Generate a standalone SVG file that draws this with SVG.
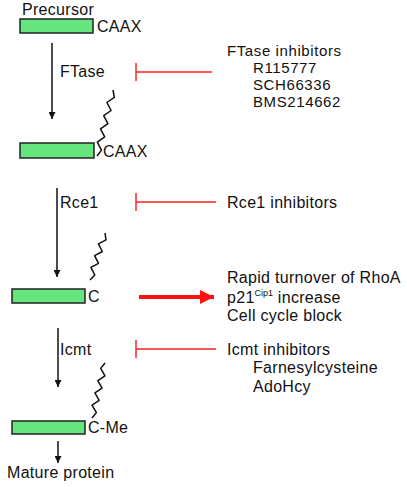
<svg xmlns="http://www.w3.org/2000/svg" width="407" height="487" viewBox="0 0 407 487">
<style>
text{font-family:"Liberation Sans",Arial,sans-serif;font-size:16px;letter-spacing:0.3px;fill:#111}
.sm{font-size:15px;letter-spacing:0.6px}
.box{fill:#66e57f;stroke:#222;stroke-width:1.5}
.zz{fill:none;stroke:#111;stroke-width:1.5;stroke-linejoin:round}
.arr{stroke:#111;stroke-width:1.5;fill:none}
.inh{stroke:#ff2222;stroke-width:1.5;fill:none}
.sup{font-size:9px;letter-spacing:0}
</style>
<defs>
<marker id="ah" viewBox="0 0 10 10" refX="10" refY="5" markerWidth="7" markerHeight="7" markerUnits="userSpaceOnUse" orient="auto">
<path d="M0,0 L10,5 L0,10 z" fill="#111"/>
</marker>
<marker id="rah" viewBox="0 0 10 10" refX="10" refY="5" markerWidth="14" markerHeight="14" markerUnits="userSpaceOnUse" orient="auto">
<path d="M0,0 L10,5 L0,10 z" fill="#ff1111"/>
</marker>
</defs>
<g id="precursor">
<text x="22" y="15">Precursor</text>
<rect class="box" x="20" y="19" width="73" height="14"/>
<text x="97" y="32">CAAX</text>
</g>
<g id="farnesylated">
<rect class="box" x="20" y="143" width="74" height="15"/>
<polyline class="zz" points="97,156 101.5,150.1 97.3,142.1 104.7,136.9 100.5,128.9 107.9,123.7 103.7,115.7 111.1,110.5 106.9,102.5 114.3,97.3 113,90"/>
<text x="103" y="157">CAAX</text>
</g>
<g id="cleaved">
<rect class="box" x="12" y="289" width="73" height="14"/>
<polyline class="zz" points="90,280 94.8,275 90.9,267.3 98.5,263.3 94.6,255.6 102.3,251.5 98.4,243.8 106,239.8 105,233"/>
<text x="88" y="302">C</text>
</g>
<g id="methylated">
<rect class="box" x="12" y="421" width="73" height="13"/>
<polyline class="zz" points="92,418 96.4,412.6 92,405.1 99.2,400.4 94.9,392.9 102.1,388.1 97.8,380.6 105,375.9 100.7,368.4 105,363"/>
<text x="88" y="433">C-Me</text>
</g>
<g id="mature">
<text x="7" y="478">Mature protein</text>
</g>
<g id="ftase-inhibitors">
<text class="sm" x="227" y="56">FTase inhibitors</text>
<text class="sm" x="253" y="73">R115777</text>
<text class="sm" x="253" y="90">SCH66336</text>
<text class="sm" x="253" y="107">BMS214662</text>
</g>
<g id="rce1-inhibitors">
<text x="227" y="208">Rce1 inhibitors</text>
</g>
<g id="effects">
<text x="227" y="283">Rapid turnover of RhoA</text>
<text x="227" y="303">p21<tspan class="sup" dy="-7">Cip1</tspan><tspan dy="7"> increase</tspan></text>
<text x="227" y="321">Cell cycle block</text>
</g>
<g id="icmt-inhibitors">
<text x="227" y="355">Icmt inhibitors</text>
<text x="253" y="373">Farnesylcysteine</text>
<text x="253" y="392">AdoHcy</text>
</g>
<g id="enzymes">
<text x="60" y="77">FTase</text>
<text x="60" y="208">Rce1</text>
<text x="60" y="355">Icmt</text>
</g>
<g id="connectors">
<line class="arr" x1="52" y1="43" x2="52" y2="119" marker-end="url(#ah)"/>
<line class="arr" x1="57" y1="188" x2="57" y2="277" marker-end="url(#ah)"/>
<line class="arr" x1="58" y1="328" x2="58" y2="387" marker-end="url(#ah)"/>
<line class="arr" x1="58" y1="441" x2="58" y2="463" marker-end="url(#ah)"/>
<path class="inh" d="M136,63 V81 M136,72 H212"/>
<path class="inh" d="M136,193 V211 M136,202 H216"/>
<path class="inh" d="M136,340 V358 M136,349 H216"/>
<line x1="139" y1="297" x2="214" y2="297" stroke="#ff1111" stroke-width="4" marker-end="url(#rah)"/>
</g>
</svg>
